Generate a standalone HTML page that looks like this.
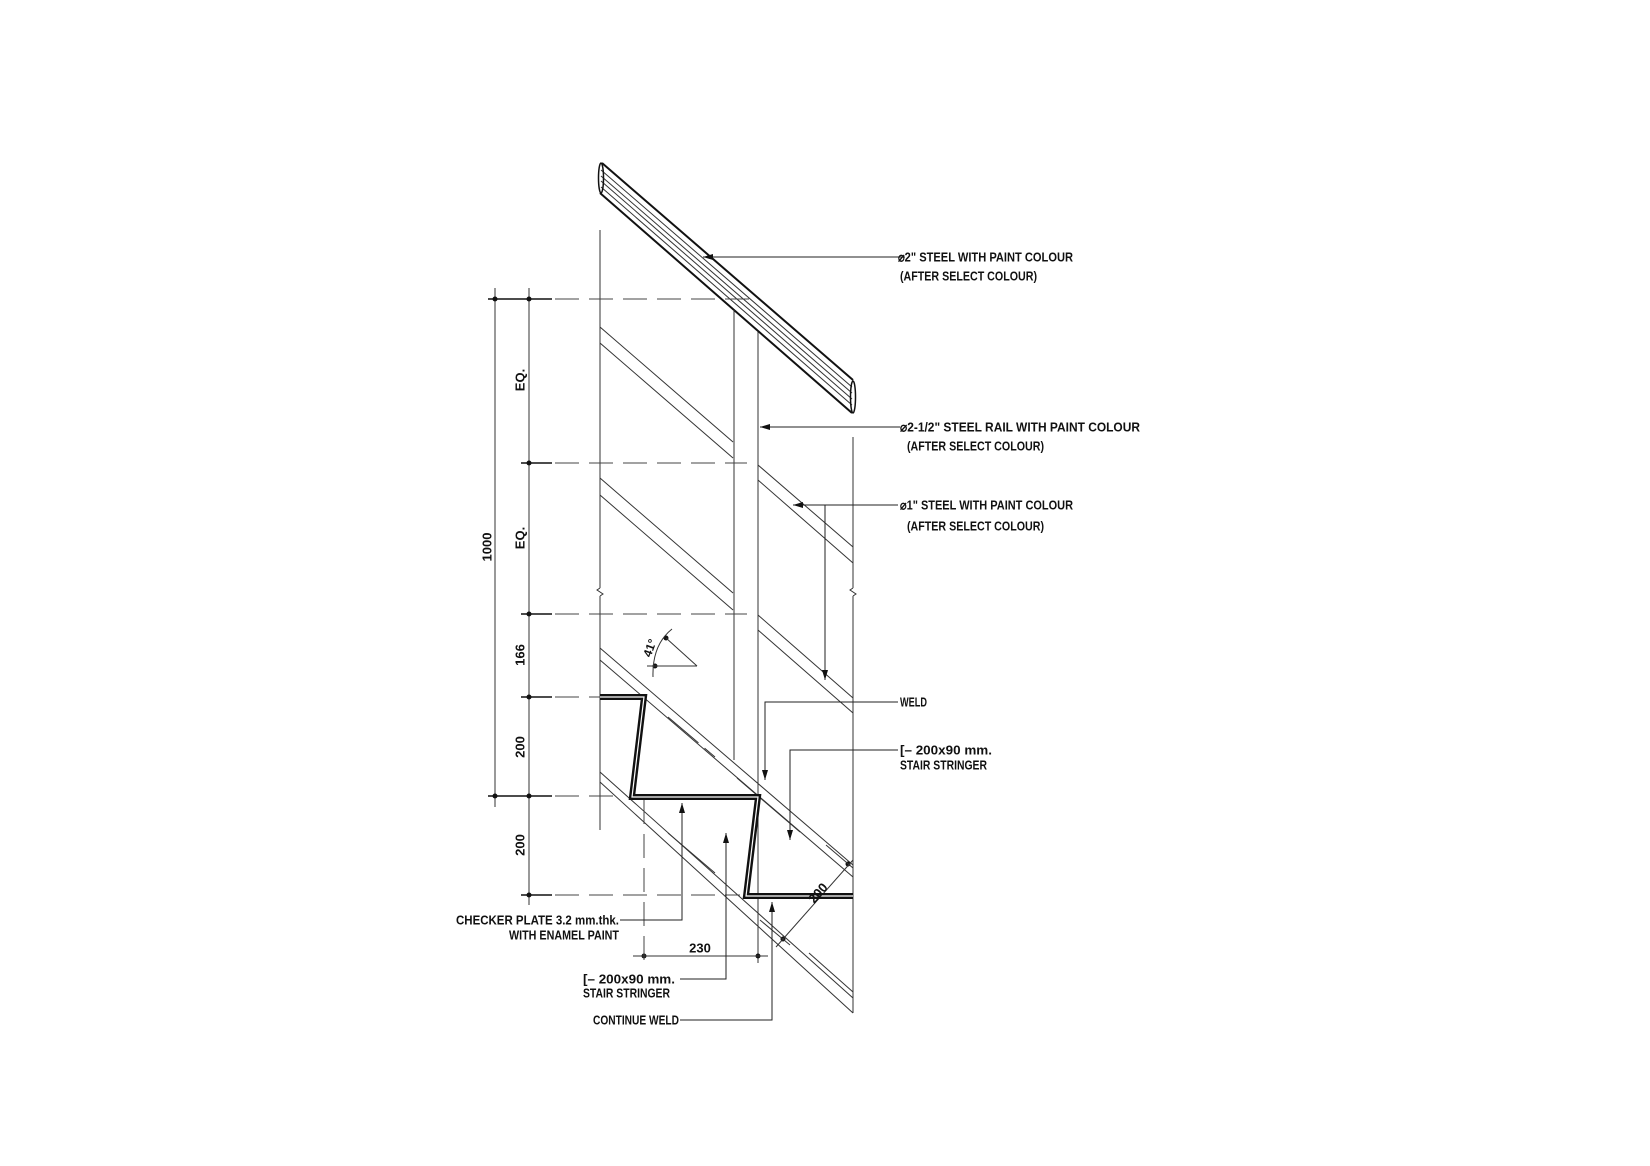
<!DOCTYPE html>
<html><head><meta charset="utf-8"><style>
html,body{margin:0;padding:0;background:#fff}
svg{display:block}
text{font-family:"Liberation Sans",sans-serif;font-weight:bold;fill:#111}
</style></head><body>
<svg width="1650" height="1166" viewBox="0 0 1650 1166" xmlns="http://www.w3.org/2000/svg">
<defs>
<marker id="ar" viewBox="0 0 10 6" refX="10" refY="3" markerWidth="10" markerHeight="6" orient="auto" markerUnits="userSpaceOnUse"><path d="M0,0 L10,3 L0,6 z" fill="#111"/></marker>
</defs>
<g stroke="#333" stroke-width="1" fill="none">
<!-- handrail -->
<line x1="602" y1="163" x2="853" y2="380" stroke="#111" stroke-width="2"/>
<line x1="600" y1="193" x2="852" y2="413" stroke="#111" stroke-width="2"/>
<line x1="601" y1="170" x2="852" y2="387"/>
<line x1="601" y1="176" x2="852" y2="393"/>
<line x1="601" y1="181" x2="852" y2="399"/>
<line x1="601" y1="187" x2="852" y2="405"/>
<ellipse cx="601" cy="178" rx="2.5" ry="15" stroke="#111" stroke-width="1.5"/>
<ellipse cx="853" cy="397" rx="2.5" ry="16" stroke="#111" stroke-width="1.5"/>
<!-- verticals -->
<line x1="600" y1="230" x2="600" y2="588"/>
<path d="M600,588 l-3,2 l6,4 l-3,2"/>
<line x1="600" y1="596" x2="600" y2="830"/>
<line x1="734" y1="310" x2="734" y2="760"/>
<line x1="758" y1="332" x2="758" y2="963"/>
<line x1="853" y1="437" x2="853" y2="588"/>
<path d="M853,588 l-3,2 l6,4 l-3,2"/>
<line x1="853" y1="596" x2="853" y2="1013"/>
<!-- 1" bars -->
<line x1="600" y1="327" x2="733" y2="442"/><line x1="600" y1="343" x2="733" y2="458"/>
<line x1="600" y1="478" x2="733" y2="593"/><line x1="600" y1="495" x2="733" y2="610"/>
<line x1="758" y1="465" x2="853" y2="547"/><line x1="758" y1="480" x2="853" y2="563"/>
<line x1="758" y1="615" x2="853" y2="698"/><line x1="758" y1="630" x2="853" y2="713"/>
<!-- stringer lines -->
<line x1="600" y1="648" x2="853" y2="865"/>
<line x1="600" y1="660" x2="853" y2="877"/>
<line x1="600" y1="772" x2="853" y2="998"/>
<line x1="600" y1="782" x2="853" y2="1013"/>
<line x1="668" y1="717" x2="715" y2="757" stroke-dasharray="40 8"/>
<line x1="737" y1="778" x2="800" y2="832"/>
<line x1="668" y1="833" x2="715" y2="873"/>
<line x1="809" y1="953" x2="853" y2="992"/>
<!-- dims -->
<line x1="495" y1="288" x2="495" y2="807"/>
<line x1="529" y1="288" x2="529" y2="905"/>
<g stroke="#111" stroke-width="1.5">
<line x1="488" y1="299" x2="552" y2="299"/><line x1="521" y1="463" x2="552" y2="463"/>
<line x1="521" y1="614" x2="552" y2="614"/><line x1="521" y1="697" x2="552" y2="697"/>
<line x1="488" y1="796" x2="552" y2="796"/><line x1="521" y1="895" x2="552" y2="895"/>
</g>
<g fill="#111" stroke="none">
<circle cx="495" cy="299" r="2.5"/><circle cx="529" cy="299" r="2.5"/><circle cx="529" cy="463" r="2.5"/>
<circle cx="529" cy="614" r="2.5"/><circle cx="529" cy="697" r="2.5"/><circle cx="495" cy="796" r="2.5"/>
<circle cx="529" cy="796" r="2.5"/><circle cx="529" cy="895" r="2.5"/>
<circle cx="644" cy="956" r="2.5"/><circle cx="758" cy="956" r="2.5"/>
<circle cx="848" cy="864" r="2.5"/><circle cx="783" cy="939" r="2.5"/>
<circle cx="655" cy="666" r="2.5"/><circle cx="666" cy="638" r="2.5"/>
</g>
<g stroke-dasharray="24 10" stroke="#444">
<line x1="555" y1="299" x2="756" y2="299"/>
<line x1="555" y1="463" x2="747" y2="463"/>
<line x1="555" y1="614" x2="747" y2="614"/>
<line x1="555" y1="697" x2="640" y2="697"/>
<line x1="555" y1="796" x2="620" y2="796"/>
<line x1="555" y1="895" x2="740" y2="895"/>
<line x1="644" y1="800" x2="644" y2="962"/>
</g>
<line x1="633" y1="956" x2="768" y2="956"/>
<!-- aligned dim 200 -->
<line x1="853" y1="860" x2="776" y2="947"/>
<line x1="826" y1="845" x2="853" y2="868"/>
<line x1="760" y1="920" x2="790" y2="945"/>
<!-- angle -->
<line x1="647" y1="666" x2="697" y2="666"/>
<line x1="666" y1="638" x2="697" y2="666"/>
<path d="M653,677 Q652,645 672,629"/>
<!-- leaders -->
<g stroke="#222">
<line x1="905" y1="257" x2="703" y2="257" marker-end="url(#ar)"/>
<line x1="900" y1="427" x2="760" y2="427" marker-end="url(#ar)"/>
<line x1="898" y1="505" x2="793" y2="505" marker-end="url(#ar)"/>
<line x1="825" y1="505" x2="825" y2="680" marker-end="url(#ar)"/>
<polyline points="898,702 765,702 765,780" marker-end="url(#ar)"/>
<polyline points="898,750 790,750 790,840" marker-end="url(#ar)"/>
<polyline points="620,920 682,920 682,803" marker-end="url(#ar)"/>
<polyline points="680,979 726,979 726,833" marker-end="url(#ar)"/>
<polyline points="680,1020 772,1020 772,902" marker-end="url(#ar)"/>
</g>
</g>
<!-- steps -->
<polyline points="600,697 644,697 632,797 758,797 746,896 853,896" fill="none" stroke="#111" stroke-width="6" stroke-linejoin="miter"/>
<polyline points="600,697 644,697 632,797 758,797 746,896 853,896" fill="none" stroke="#fff" stroke-width="1.2"/>
<!-- texts -->
<g font-size="13">
<text x="487" y="547" transform="rotate(-90 487 547)" text-anchor="middle" dominant-baseline="central">1000</text>
<text x="520" y="380" transform="rotate(-90 520 380)" text-anchor="middle" dominant-baseline="central">EQ.</text>
<text x="520" y="538" transform="rotate(-90 520 538)" text-anchor="middle" dominant-baseline="central">EQ.</text>
<text x="520" y="655" transform="rotate(-90 520 655)" text-anchor="middle" dominant-baseline="central">166</text>
<text x="520" y="747" transform="rotate(-90 520 747)" text-anchor="middle" dominant-baseline="central">200</text>
<text x="520" y="845" transform="rotate(-90 520 845)" text-anchor="middle" dominant-baseline="central">200</text>
<text x="650" y="648" transform="rotate(-70 650 648)" text-anchor="middle" dominant-baseline="central" font-size="12">41°</text>
<text x="700" y="948" text-anchor="middle" dominant-baseline="central">230</text>
<text x="818" y="893" transform="rotate(-49 818 893)" text-anchor="middle" dominant-baseline="central">200</text>
<text x="898" y="257" dominant-baseline="central" textLength="175" lengthAdjust="spacingAndGlyphs">⌀2" STEEL WITH PAINT COLOUR</text>
<text x="900" y="276" dominant-baseline="central" textLength="137" lengthAdjust="spacingAndGlyphs">(AFTER SELECT COLOUR)</text>
<text x="900" y="427" dominant-baseline="central" textLength="240" lengthAdjust="spacingAndGlyphs">⌀2-1/2"  STEEL RAIL WITH PAINT COLOUR</text>
<text x="907" y="446" dominant-baseline="central" textLength="137" lengthAdjust="spacingAndGlyphs">(AFTER SELECT COLOUR)</text>
<text x="900" y="505" dominant-baseline="central" textLength="173" lengthAdjust="spacingAndGlyphs">⌀1" STEEL WITH PAINT COLOUR</text>
<text x="907" y="526" dominant-baseline="central" textLength="137" lengthAdjust="spacingAndGlyphs">(AFTER SELECT COLOUR)</text>
<text x="900" y="702" dominant-baseline="central" textLength="27" lengthAdjust="spacingAndGlyphs">WELD</text>
<text x="900" y="750" dominant-baseline="central" textLength="92" lengthAdjust="spacingAndGlyphs">[– 200x90 mm.</text>
<text x="900" y="765" dominant-baseline="central" textLength="87" lengthAdjust="spacingAndGlyphs">STAIR STRINGER</text>
<text x="619" y="920" text-anchor="end" dominant-baseline="central" textLength="163" lengthAdjust="spacingAndGlyphs">CHECKER PLATE 3.2 mm.thk.</text>
<text x="619" y="935" text-anchor="end" dominant-baseline="central" textLength="110" lengthAdjust="spacingAndGlyphs">WITH ENAMEL PAINT</text>
<text x="583" y="979" dominant-baseline="central" textLength="92" lengthAdjust="spacingAndGlyphs">[– 200x90 mm.</text>
<text x="583" y="993" dominant-baseline="central" textLength="87" lengthAdjust="spacingAndGlyphs">STAIR STRINGER</text>
<text x="593" y="1020" dominant-baseline="central" textLength="86" lengthAdjust="spacingAndGlyphs">CONTINUE WELD</text>
</g>
</svg>
</body></html>
